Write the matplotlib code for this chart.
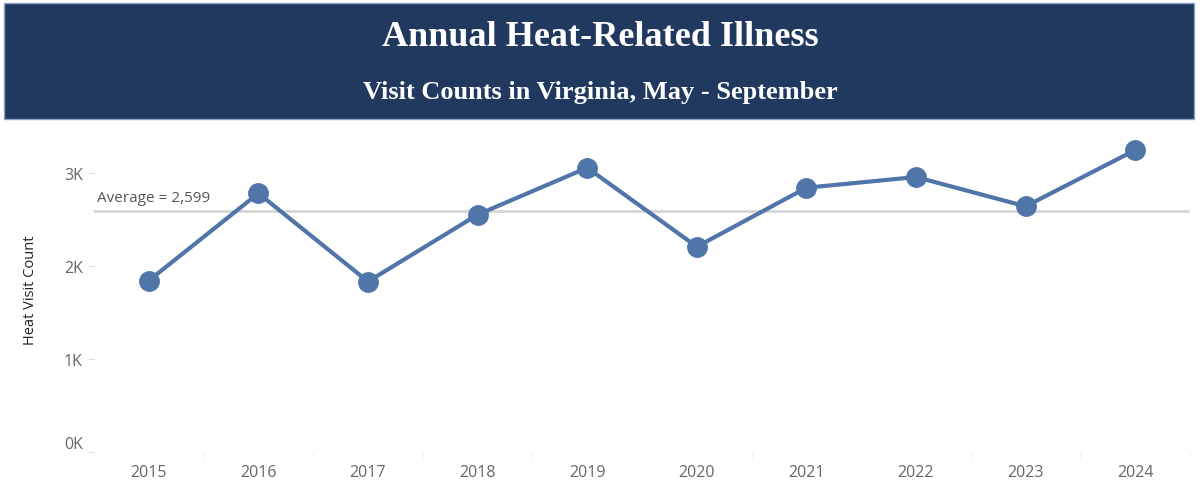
import matplotlib.pyplot as plt
from matplotlib.patches import Rectangle

years = ['2015', '2016', '2017', '2018', '2019', '2020', '2021', '2022', '2023', '2024']
visits = [1845, 2785, 1835, 2555, 3060, 2210, 2845, 2960, 2645, 3250]
y_ticks = [0, 1000, 2000, 3000]
y_tick_labels = ['0K', '1K', '2K', '3K']
avg_label = 'Average = 2,599'

W, H = 1200, 489
fig = plt.figure(figsize=(W / 100, H / 100), dpi=100)
plt.rcParams['font.family'] = ['Open Sans', 'DejaVu Sans']

# header banner
fig.patches.append(Rectangle((4 / W, 1 - 120 / H), 1190 / W, 116 / H, transform=fig.transFigure,
                             facecolor='#21395f', edgecolor='#8fa3c0', lw=1, zorder=0))
fig.text(0.5, 1 - 37 / H, 'Annual Heat-Related Illness', ha='center', va='center', color='white',
         family='Liberation Serif', weight='bold', fontsize=26)
fig.text(0.5, 1 - 93 / H, 'Visit Counts in Virginia, May - September', ha='center', va='center',
         color='white', family='Liberation Serif', weight='bold', fontsize=19)

ax = fig.add_axes([94 / W, (H - 453) / H, 1096 / W, 328 / H])
x = list(range(len(years)))
ax.plot(x, visits, color='#5075a8', lw=3, marker='o', markersize=14, zorder=3)

avg = sum(visits) / len(visits)
ax.axhline(avg, color='#d6d6d6', lw=2, zorder=1)
ax.text(0.003, avg + 60, avg_label, transform=ax.get_yaxis_transform(), ha='left', va='bottom',
        color='#555555', fontsize=11)

ax.set_xlim(-0.5, len(years) - 0.5)
ax.set_ylim(0, 3531)
ax.set_xticks(x)
ax.set_xticklabels(years)
ax.set_xticks([i - 0.5 for i in range(len(years) + 1)], minor=True)
ax.tick_params(axis='x', which='major', length=0, pad=9, labelsize=11.5, labelcolor='#666666')
ax.tick_params(axis='x', which='minor', length=4, color='#eeeeee')
ax.set_yticks(y_ticks)
ax.set_yticklabels(y_tick_labels)
ax.tick_params(axis='y', length=4, color='#dddddd', pad=4, labelsize=11.5, labelcolor='#666666')
ax.get_yticklabels()[0].set_verticalalignment('bottom')
for s in ax.spines.values():
    s.set_visible(False)

fig.text(30 / W, 1 - 290 / H, 'Heat Visit Count', rotation=90, ha='center', va='center',
         color='#222222', fontsize=10.5)

fig.savefig('out.png', dpi=100)
